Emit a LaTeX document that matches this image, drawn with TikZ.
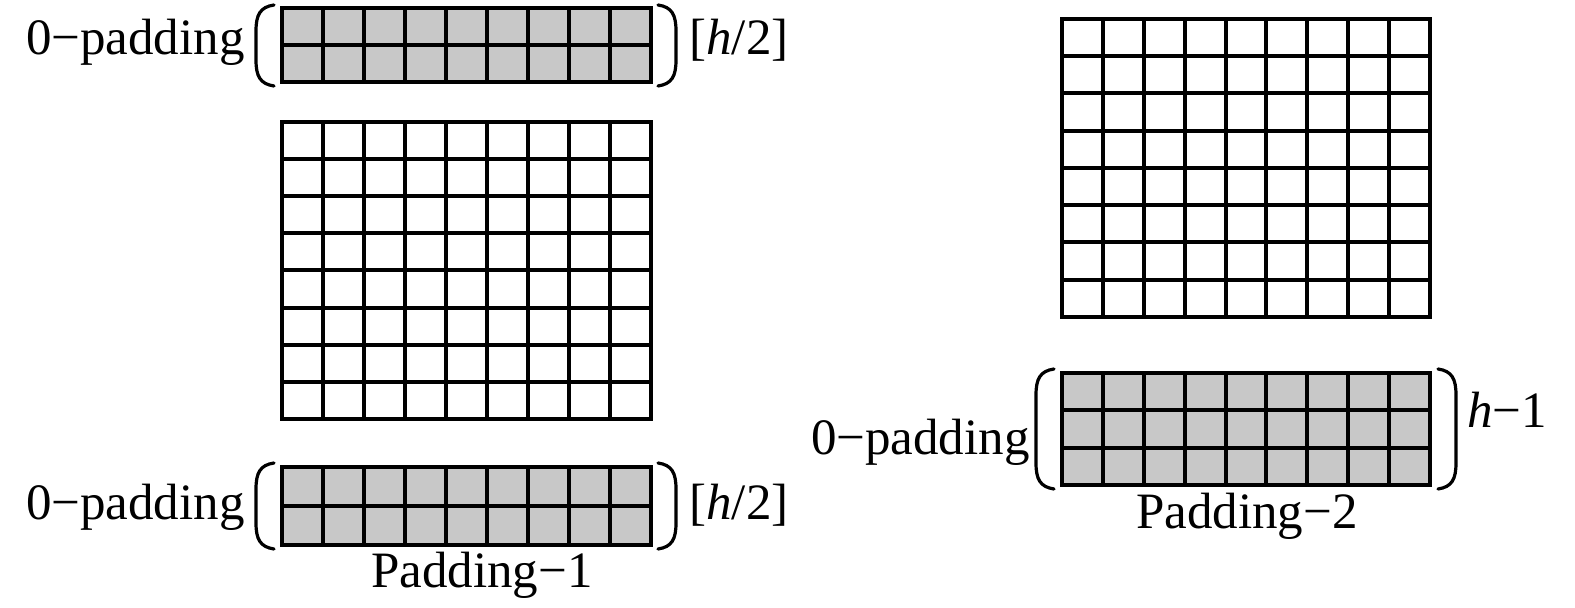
\documentclass[tikz,border=0pt]{standalone}
\usepackage{fontspec}
\setmainfont{Liberation Serif}
\definecolor{padgray}{RGB}{200,200,200}
\newcommand\drawcells[7]{% x0 y0 x1 y1 cols rows-1 fill
  \fill[#7] (#1,#2) rectangle (#3,#4);
  \foreach \i in {1,...,#5} \draw[cellline] ({#1+\i*(#3-#1)/(#5+1)},#2) -- ({#1+\i*(#3-#1)/(#5+1)},#4);
  \foreach \j in {1,...,#6} \draw[cellline] (#1,{#2+\j*(#4-#2)/(#6+1)}) -- (#3,{#2+\j*(#4-#2)/(#6+1)});
  \draw[cellline] (#1,#2) rectangle (#3,#4);
}
\newcommand\leftbrak[3]{% x(left) ytop ybot
  \draw[brak] (#1+18,#2) .. controls (#1+4,#2+2) and (#1,#2+10) .. (#1,#2+26) -- (#1,#3-26) .. controls (#1,#3-10) and (#1+4,#3-2) .. (#1+18,#3);
}
\newcommand\rightbrak[3]{% x(right) ytop ybot
  \draw[brak] (#1-18,#2) .. controls (#1-4,#2+2) and (#1,#2+10) .. (#1,#2+26) -- (#1,#3-26) .. controls (#1,#3-10) and (#1-4,#3-2) .. (#1-18,#3);
}
\begin{document}
\begin{tikzpicture}[x=0.5pt,y=-0.5pt,
  lbl/.style={font=\fontsize{25.5}{30}\selectfont, inner sep=0pt},
  cellline/.style={line width=2pt, line cap=rect},
  brak/.style={line width=1.6pt, line cap=round}]
\useasboundingbox (0,0) rectangle (1575,608);
% top-left padding
\drawcells{282}{8}{651}{82}{8}{1}{padgray}
\leftbrak{256}{5}{86}
\rightbrak{676}{5}{86}
\node[lbl, anchor=base east] (tl) at (245,55) {0−padding};
\node[lbl, anchor=base west] (th) at (689,55) {[\textit{h}/2]};
% left main grid
\drawcells{282}{122}{651}{419}{8}{7}{white}
% bottom-left padding
\drawcells{282}{467}{651}{545}{8}{1}{padgray}
\leftbrak{256}{463}{549}
\rightbrak{676}{463}{549}
\node[lbl, anchor=base east] (bl) at (245,520) {0−padding};
\node[lbl, anchor=base west] (bh) at (689,520) {[\textit{h}/2]};
\node[lbl, anchor=base] (p1) at (482,588) {Padding−1};
% right main grid
\drawcells{1062}{19}{1430}{317}{8}{7}{white}
% right padding
\drawcells{1062}{373}{1430}{485}{8}{2}{padgray}
\leftbrak{1036}{369}{489}
\rightbrak{1456}{369}{489}
\node[lbl, anchor=base east] (rl) at (1030,455) {0−padding};
\node[lbl, anchor=base west] (rh) at (1467,428) {\textit{h}−1};
\node[lbl, anchor=base] (p2) at (1247,529) {Padding−2};
\end{tikzpicture}
\end{document}
